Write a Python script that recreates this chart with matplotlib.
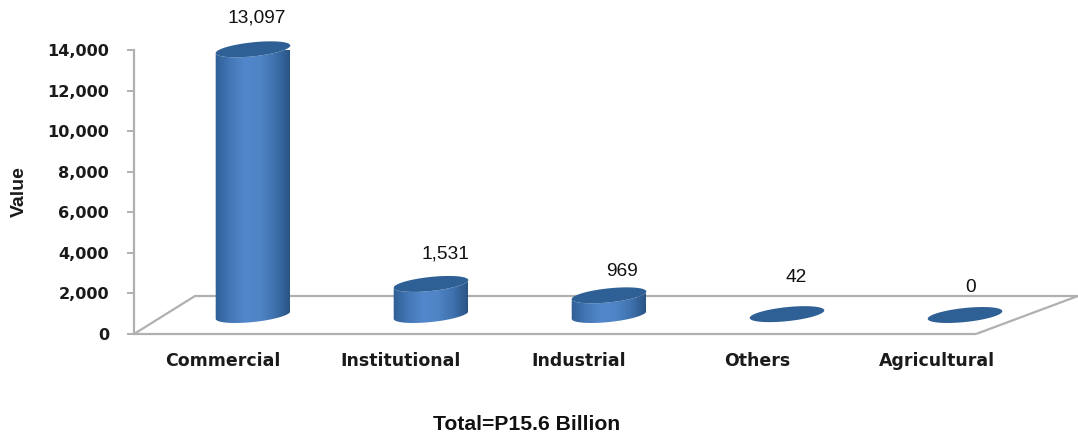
import numpy as np
import matplotlib
matplotlib.use("Agg")
import matplotlib.pyplot as plt
from matplotlib.colors import LinearSegmentedColormap
from matplotlib.patches import PathPatch
from matplotlib.path import Path

categories = ["Commercial", "Institutional", "Industrial", "Others", "Agricultural"]
values = [13097, 1531, 969, 42, 0]
value_labels = ["13,097", "1,531", "969", "42", "0"]
y_ticks = [0, 2000, 4000, 6000, 8000, 10000, 12000, 14000]
y_ticklabels = ["0", "2,000", "4,000", "6,000", "8,000", "10,000", "12,000", "14,000"]
y_title = "Value"
footnote = "Total=P15.6 Billion"

W, H = 1078, 438
fig = plt.figure(figsize=(W / 100, H / 100), dpi=100, facecolor="white")

# Axes frame in pixels: the y scale runs from 334 px (0) up to 50 px (14,000)
left, right, y0_px, y14_px = 134, 1078, 334, 50
ax = fig.add_axes([left / W, 1 - y0_px / H, (right - left) / W, (y0_px - y14_px) / H])
PX_PER_CAT = 178.0
FIRST_CENTRE = 253.0
ax.set_xlim((left - FIRST_CENTRE) / PX_PER_CAT, (right - FIRST_CENTRE) / PX_PER_CAT)
ax.set_ylim(0, 14000)
ax.patch.set_visible(False)
UNITS_PER_PX = 14000 / (y0_px - y14_px)


def px_x(px):
    return (px - FIRST_CENTRE) / PX_PER_CAT


def dx(px):
    return px / PX_PER_CAT


def dy(px):
    return px * UNITS_PER_PX


GREY = "#b0b0b0"
for s in ("top", "right", "bottom"):
    ax.spines[s].set_visible(False)
ax.spines["left"].set_color(GREY)
ax.spines["left"].set_linewidth(1.6)
ax.set_yticks(y_ticks)
ax.set_yticklabels(y_ticklabels, family="DejaVu Sans", fontweight="bold", fontsize=11.6, color="#1a1a1a")
ax.tick_params(axis="y", length=5, width=1.4, color=GREY, pad=13)
ax.set_xticks([])

# Perspective floor of the chart
FLOOR_BACK = dy(38)
floor_kw = dict(color=GREY, lw=1.6, solid_capstyle="butt", zorder=1, clip_on=False)
ax.plot([px_x(134), px_x(976)], [0, 0], **floor_kw)
ax.plot([px_x(134), px_x(195), px_x(1078)], [0, FLOOR_BACK, FLOOR_BACK], **floor_kw)
ax.plot([px_x(976), px_x(1078)], [0, FLOOR_BACK], **floor_kw)

body_cmap = LinearSegmentedColormap.from_list(
    "cyl", ["#2f5f96", "#4377b6", "#5288cb", "#4f85c6", "#3f72ae", "#2a5485"]
)
TOP_COLOR = "#2f6095"
RX, RY, TILT = 37.5, 7.0, np.deg2rad(6)
BASE_OFFSET = dy(19)


def rim(t, cx, cy):
    """Points on a tilted ellipse, returned in data units."""
    ex = RX * np.cos(t)
    ey = RY * np.sin(t)
    xs = ex * np.cos(TILT) - ey * np.sin(TILT)
    ys = ex * np.sin(TILT) + ey * np.cos(TILT)
    return cx + dx(xs), cy + dy(ys)


for i, v in enumerate(values):
    base = BASE_OFFSET
    top = base + v
    # Lower half of the base rim closes the body, then back up over the top rim
    t_low = np.linspace(np.pi, 2 * np.pi, 60)
    bx, by = rim(t_low, i, base)
    tx, ty = rim(t_low[::-1], i, top)
    verts = np.column_stack([np.r_[bx, tx], np.r_[by, ty]])
    verts = np.vstack([verts, verts[0]])
    clip = PathPatch(Path(verts), transform=ax.transData, fc="none", ec="none")
    ax.add_patch(clip)
    if v > 500:
        grad = np.linspace(0, 1, 128).reshape(1, -1)
        im = ax.imshow(
            grad, cmap=body_cmap, aspect="auto", zorder=2, interpolation="bilinear",
            extent=[i - dx(RX), i + dx(RX), base - dy(12), top + dy(12)],
        )
        im.set_clip_path(clip)
    cap_x, cap_y = rim(np.linspace(0, 2 * np.pi, 120), i, top)
    ax.fill(cap_x, cap_y, color=TOP_COLOR, zorder=3, lw=0, clip_on=False)

ax.set_xlim((left - FIRST_CENTRE) / PX_PER_CAT, (right - FIRST_CENTRE) / PX_PER_CAT)
ax.set_ylim(0, 14000)

# Value labels above each cylinder
label_px = [(257, 18), (445, 254), (622, 272), (796, 278), (971, 287)]
for (lx, ly), txt in zip(label_px, value_labels):
    fig.text(lx / W, 1 - ly / H, txt, ha="center", va="center",
             family="Liberation Sans", fontsize=13.8, color="#111111")

# Category labels sit left of the cylinders because of the floor's perspective
cat_px = [223, 401, 579, 757, 937]
for cx, name in zip(cat_px, categories):
    fig.text(cx / W, 1 - 361 / H, name, ha="center", va="center",
             family="DejaVu Sans", fontweight="bold", fontsize=12.5, color="#1a1a1a")

fig.text(19 / W, 1 - 192 / H, y_title, rotation=90, ha="center", va="center",
         family="Liberation Sans", fontweight="bold", fontsize=14, color="#1a1a1a")
fig.text(527 / W, 1 - 424 / H, footnote, ha="center", va="center",
         family="Liberation Sans", fontweight="bold", fontsize=15.2, color="#111111")

fig.savefig("out.png", dpi=100, facecolor="white")
